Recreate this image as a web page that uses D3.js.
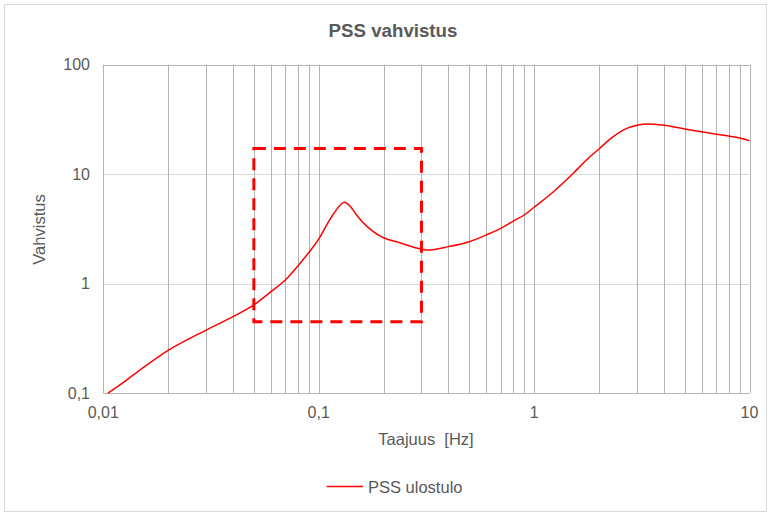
<!DOCTYPE html>
<html>
<head>
    <meta charset="utf-8">
    <title>PSS vahvistus</title>
    <script src="https://d3js.org/d3.v7.min.js"></script>
    <style>
        body { margin: 0; background: #ffffff; }
        text {
            font-family: "Liberation Sans", Arial, sans-serif;
            fill: #595959;
        }
    </style>
</head>
<body>
<div id="svg_container"></div>
<script>
    // Chart data (frequency in Hz, gain)
    const freq = [0.0105, 0.0125, 0.015, 0.02, 0.03, 0.04, 0.05, 0.06, 0.07, 0.08, 0.09, 0.1,
                  0.11, 0.12, 0.1315, 0.14, 0.15, 0.16, 0.18, 0.19, 0.2, 0.238, 0.3, 0.32, 0.4, 0.5, 0.6,
                  0.7, 0.8, 0.9, 1, 1.23, 1.52, 1.75, 2, 2.33, 2.69, 3, 3.4, 4, 5, 6, 7, 8, 9, 10];
    const gain = [0.1, 0.127, 0.166, 0.246, 0.377, 0.5, 0.64, 0.845, 1.08, 1.45, 1.93, 2.55,
                  3.56, 4.64, 5.55, 5.1, 4.24, 3.64, 2.98, 2.78, 2.63, 2.37, 2.07, 2.03, 2.18, 2.42, 2.79,
                  3.2, 3.73, 4.24, 4.99, 6.92, 10.2, 13.5, 17.0, 22.0, 26.2, 28.0, 28.8, 28.0, 25.9, 24.4, 23.2, 22.3, 21.4, 20.2];

    // dashed highlight box: [x0, x1] and [y0, y1]
    const box_x = [0.05, 0.3];
    const box_y = [0.45, 17.2];

    const x_ticks = [0.01, 0.1, 1, 10];
    const x_tick_labels = ["0,01", "0,1", "1", "10"];
    const y_ticks = [0.1, 1, 10, 100];
    const y_tick_labels = ["0,1", "1", "10", "100"];

    const series_name = "PSS ulostulo";

    const width = 771;
    const height = 515;

    const svg = d3.select("#svg_container")
        .append("svg")
        .attr("width", width)
        .attr("height", height);

    // chart border
    svg.append("rect")
        .attr("x", 4.5).attr("y", 4.5)
        .attr("width", 762).attr("height", 507)
        .attr("fill", "#ffffff")
        .attr("stroke", "#d9d9d9");

    const plot_left = 103.3, plot_right = 749.5;
    const plot_top = 64.7, plot_bottom = 393.2;

    const x = d3.scaleLog().domain([0.01, 10]).range([plot_left, plot_right]);
    const y = d3.scaleLog().domain([0.1, 100]).range([plot_bottom, plot_top]);

    // horizontal gridlines (light)
    svg.selectAll(".hgrid")
        .data(y_ticks.slice(1, 3))
        .enter()
        .append("line")
        .attr("x1", plot_left).attr("x2", plot_right)
        .attr("y1", d => Math.round(y(d)) + 0.5)
        .attr("y2", d => Math.round(y(d)) + 0.5)
        .attr("stroke", "#d9d9d9")
        .attr("stroke-width", 1);

    // vertical gridlines at every 1..9 of each decade
    const v_grid = [];
    for (let e = -2; e <= 0; e++) {
        for (let m = 1; m <= 9; m++) v_grid.push(m * Math.pow(10, e));
    }
    v_grid.push(10);

    svg.selectAll(".vgrid")
        .data(v_grid)
        .enter()
        .append("line")
        .attr("x1", d => Math.round(x(d)) + 0.5)
        .attr("x2", d => Math.round(x(d)) + 0.5)
        .attr("y1", plot_top).attr("y2", plot_bottom)
        .attr("stroke", "#b3b3b3")
        .attr("stroke-width", 1);

    // top line and bottom axis line
    [plot_top, plot_bottom].forEach(yy => {
        svg.append("line")
            .attr("x1", plot_left).attr("x2", plot_right)
            .attr("y1", Math.round(yy) + 0.5).attr("y2", Math.round(yy) + 0.5)
            .attr("stroke", "#b3b3b3")
            .attr("stroke-width", 1);
    });

    // tick labels
    svg.selectAll(".ylab")
        .data(y_ticks)
        .enter()
        .append("text")
        .attr("x", 90)
        .attr("y", d => y(d))
        .attr("dy", "0.36em")
        .attr("text-anchor", "end")
        .style("font-size", "16px")
        .text((d, i) => y_tick_labels[i]);

    svg.selectAll(".xlab")
        .data(x_ticks)
        .enter()
        .append("text")
        .attr("x", d => x(d))
        .attr("y", 418)
        .attr("text-anchor", "middle")
        .style("font-size", "16px")
        .text((d, i) => x_tick_labels[i]);

    // titles
    svg.append("text")
        .attr("x", 393).attr("y", 37)
        .attr("text-anchor", "middle")
        .style("font-size", "18.7px")
        .style("font-weight", "bold")
        .text("PSS vahvistus");

    svg.append("text")
        .attr("x", 426).attr("y", 445)
        .attr("text-anchor", "middle")
        .attr("xml:space", "preserve")
        .style("white-space", "pre")
        .style("font-size", "16.5px")
        .text("Taajuus  [Hz]");

    svg.append("text")
        .attr("transform", "translate(45,229.5) rotate(-90)")
        .attr("text-anchor", "middle")
        .style("font-size", "16.5px")
        .text("Vahvistus");

    // dashed box
    svg.append("rect")
        .attr("x", x(box_x[0]))
        .attr("y", y(box_y[1]))
        .attr("width", x(box_x[1]) - x(box_x[0]))
        .attr("height", y(box_y[0]) - y(box_y[1]))
        .attr("fill", "none")
        .attr("stroke", "#ff0000")
        .attr("stroke-width", 3)
        .attr("stroke-dasharray", "12,8");

    // series line
    const points = freq.map((f, i) => ({ f: f, g: gain[i] }));
    const line = d3.line()
        .x(d => x(d.f))
        .y(d => y(d.g))
        .curve(d3.curveMonotoneX);

    svg.append("path")
        .datum(points)
        .attr("d", line)
        .attr("fill", "none")
        .attr("stroke", "#ff0000")
        .attr("stroke-width", 1.5);

    // legend
    svg.append("line")
        .attr("x1", 326.7).attr("x2", 363)
        .attr("y1", 486.5).attr("y2", 486.5)
        .attr("stroke", "#ff0000")
        .attr("stroke-width", 1.5);

    svg.append("text")
        .attr("x", 368).attr("y", 492.5)
        .style("font-size", "16.5px")
        .text(series_name);
</script>
</body>
</html>
